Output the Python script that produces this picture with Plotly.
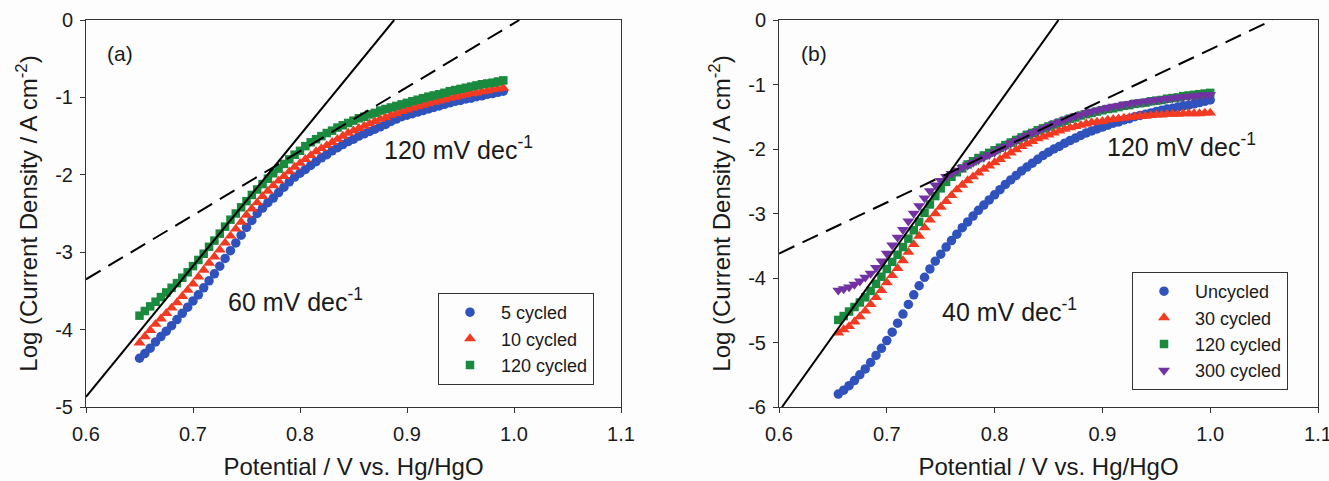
import plotly.graph_objects as go

# ---------------- data: panel (a) ----------------
POT_A = [0.650, 0.655, 0.660, 0.665, 0.670, 0.675, 0.680, 0.685, 0.690, 0.695,
         0.700, 0.705, 0.710, 0.715, 0.720, 0.725, 0.730, 0.735, 0.740, 0.745,
         0.750, 0.755, 0.760, 0.765, 0.770, 0.775, 0.780, 0.785, 0.790, 0.795,
         0.800, 0.805, 0.810, 0.815, 0.820, 0.825, 0.830, 0.835, 0.840, 0.845,
         0.850, 0.855, 0.860, 0.865, 0.870, 0.875, 0.880, 0.885, 0.890, 0.895,
         0.900, 0.905, 0.910, 0.915, 0.920, 0.925, 0.930, 0.935, 0.940, 0.945,
         0.950, 0.955, 0.960, 0.965, 0.970, 0.975, 0.980, 0.985, 0.990]

A_5_CYCLED = [-4.37, -4.31, -4.24, -4.16, -4.09, -4.02, -3.95, -3.87, -3.79, -3.71,
              -3.63, -3.55, -3.46, -3.37, -3.28, -3.18, -3.08, -2.98, -2.88, -2.78,
              -2.68, -2.59, -2.50, -2.43, -2.36, -2.30, -2.23, -2.16, -2.09, -2.03,
              -1.98, -1.93, -1.88, -1.83, -1.78, -1.74, -1.69, -1.65, -1.61, -1.57,
              -1.54, -1.50, -1.47, -1.44, -1.41, -1.38, -1.35, -1.31, -1.28, -1.25,
              -1.23, -1.21, -1.19, -1.17, -1.15, -1.13, -1.11, -1.09, -1.07, -1.05,
              -1.04, -1.02, -1.01, -0.99, -0.98, -0.96, -0.95, -0.935, -0.92]

A_10_CYCLED = [-4.17, -4.09, -4.01, -3.93, -3.86, -3.79, -3.72, -3.65, -3.57, -3.49,
               -3.41, -3.32, -3.23, -3.14, -3.06, -2.97, -2.88, -2.79, -2.70, -2.61,
               -2.52, -2.44, -2.36, -2.28, -2.21, -2.14, -2.08, -2.02, -1.96, -1.90,
               -1.85, -1.80, -1.75, -1.70, -1.66, -1.62, -1.58, -1.54, -1.50, -1.46,
               -1.43, -1.40, -1.37, -1.34, -1.31, -1.28, -1.26, -1.23, -1.21, -1.18,
               -1.16, -1.14, -1.12, -1.10, -1.08, -1.06, -1.045, -1.03, -1.01, -0.995,
               -0.98, -0.965, -0.95, -0.94, -0.925, -0.915, -0.90, -0.89, -0.88]

A_120_CYCLED = [-3.82, -3.76, -3.70, -3.64, -3.58, -3.52, -3.46, -3.40, -3.33, -3.26,
                -3.18, -3.10, -3.02, -2.93, -2.85, -2.76, -2.67, -2.58, -2.50, -2.42,
                -2.34, -2.26, -2.19, -2.12, -2.05, -1.98, -1.92, -1.86, -1.80, -1.74,
                -1.69, -1.63, -1.58, -1.54, -1.50, -1.46, -1.43, -1.39, -1.36, -1.33,
                -1.30, -1.27, -1.25, -1.22, -1.20, -1.17, -1.15, -1.13, -1.11, -1.09,
                -1.07, -1.05, -1.03, -1.01, -0.99, -0.975, -0.96, -0.94, -0.92, -0.905,
                -0.89, -0.875, -0.86, -0.845, -0.83, -0.82, -0.81, -0.795, -0.78]

# Tafel lines (a): end points
A_LINE60_X = [0.600, 0.888]
A_LINE60_Y = [-4.87, 0.0]
A_LINE120_X = [0.600, 1.005]
A_LINE120_Y = [-3.35, 0.0]

# ---------------- data: panel (b) ----------------
POT_B = [0.655, 0.660, 0.665, 0.670, 0.675, 0.680, 0.685, 0.690, 0.695, 0.700,
         0.705, 0.710, 0.715, 0.720, 0.725, 0.730, 0.735, 0.740, 0.745, 0.750,
         0.755, 0.760, 0.765, 0.770, 0.775, 0.780, 0.785, 0.790, 0.795, 0.800,
         0.805, 0.810, 0.815, 0.820, 0.825, 0.830, 0.835, 0.840, 0.845, 0.850,
         0.855, 0.860, 0.865, 0.870, 0.875, 0.880, 0.885, 0.890, 0.895, 0.900,
         0.905, 0.910, 0.915, 0.920, 0.925, 0.930, 0.935, 0.940, 0.945, 0.950,
         0.955, 0.960, 0.965, 0.970, 0.975, 0.980, 0.985, 0.990, 0.995, 1.000]

B_UNCYCLED = [-5.80, -5.74, -5.67, -5.59, -5.50, -5.41, -5.31, -5.20, -5.09, -4.97,
              -4.84, -4.70, -4.56, -4.41, -4.26, -4.12, -3.99, -3.86, -3.74, -3.63,
              -3.52, -3.42, -3.32, -3.22, -3.13, -3.04, -2.95, -2.87, -2.79, -2.71,
              -2.63, -2.55, -2.48, -2.41, -2.34, -2.28, -2.22, -2.16, -2.10, -2.05,
              -2.00, -1.96, -1.91, -1.87, -1.83, -1.79, -1.75, -1.72, -1.69, -1.66,
              -1.63, -1.60, -1.58, -1.55, -1.53, -1.50, -1.48, -1.46, -1.44, -1.42,
              -1.40, -1.38, -1.37, -1.35, -1.33, -1.32, -1.30, -1.28, -1.26, -1.24]

B_30_CYCLED = [-4.85, -4.80, -4.75, -4.68, -4.60, -4.51, -4.41, -4.30, -4.19, -4.07,
               -3.96, -3.85, -3.73, -3.60, -3.48, -3.35, -3.22, -3.10, -3.00, -2.90,
               -2.81, -2.72, -2.63, -2.56, -2.49, -2.43, -2.37, -2.31, -2.26, -2.21,
               -2.16, -2.11, -2.06, -2.01, -1.96, -1.92, -1.88, -1.84, -1.81, -1.78,
               -1.75, -1.72, -1.69, -1.67, -1.65, -1.63, -1.61, -1.59, -1.58, -1.57,
               -1.55, -1.54, -1.53, -1.52, -1.51, -1.50, -1.49, -1.49, -1.48, -1.47,
               -1.47, -1.46, -1.46, -1.46, -1.45, -1.45, -1.45, -1.45, -1.44, -1.44]

B_120_CYCLED = [-4.65, -4.59, -4.52, -4.45, -4.38, -4.30, -4.20, -4.09, -3.98, -3.86,
                -3.75, -3.64, -3.52, -3.39, -3.26, -3.13, -2.99, -2.86, -2.73, -2.61,
                -2.51, -2.43, -2.36, -2.30, -2.24, -2.19, -2.14, -2.10, -2.06, -2.02,
                -1.98, -1.94, -1.90, -1.86, -1.82, -1.78, -1.75, -1.71, -1.68, -1.65,
                -1.62, -1.59, -1.56, -1.53, -1.51, -1.48, -1.46, -1.44, -1.42, -1.40,
                -1.38, -1.37, -1.35, -1.33, -1.32, -1.30, -1.29, -1.28, -1.26, -1.25,
                -1.24, -1.22, -1.21, -1.20, -1.18, -1.17, -1.16, -1.15, -1.14, -1.13]

B_300_CYCLED = [-4.19, -4.17, -4.14, -4.10, -4.05, -3.99, -3.93, -3.84, -3.74, -3.62,
                -3.49, -3.37, -3.25, -3.12, -3.00, -2.88, -2.76, -2.65, -2.56, -2.49,
                -2.43, -2.38, -2.33, -2.29, -2.25, -2.21, -2.17, -2.13, -2.09, -2.05,
                -2.00, -1.96, -1.91, -1.87, -1.83, -1.79, -1.75, -1.72, -1.68, -1.65,
                -1.61, -1.58, -1.55, -1.52, -1.49, -1.47, -1.44, -1.42, -1.40, -1.38,
                -1.36, -1.34, -1.33, -1.31, -1.30, -1.28, -1.27, -1.26, -1.25, -1.24,
                -1.23, -1.22, -1.21, -1.20, -1.19, -1.185, -1.18, -1.17, -1.16, -1.16]

B_LINE40_X = [0.6028, 0.8593]
B_LINE40_Y = [-6.0, 0.0]
B_LINE120_X = [0.600, 1.058]
B_LINE120_Y = [-3.62, 0.0]

X_TICKS = [0.6, 0.7, 0.8, 0.9, 1.0, 1.1]
X_TICK_TEXT = ["0.6", "0.7", "0.8", "0.9", "1.0", "1.1"]
Y_TICKS_A = [0, -1, -2, -3, -4, -5]
Y_TICK_TEXT_A = ["0", "-1", "-2", "-3", "-4", "-5"]
Y_TICKS_B = [0, -1, -2, -3, -4, -5, -6]
Y_TICK_TEXT_B = ["0", "-1", "-2", "-3", "-4", "-5", "-6"]

# ---------------- styles ----------------
FONT = "Liberation Sans, Arial, sans-serif"
BLUE = "#2f52bd"
RED = "#f23a22"
GREEN = "#1a8a3e"
PURPLE = "#7232a3"
BG = "#fdfdfe"
TXT = "#1a1a1a"
W, H = 1329, 481
T, B = 20, 74

fig = go.Figure()


def scatter(x, y, name, color, symbol, size, xa, ya, legend):
    fig.add_trace(go.Scatter(
        x=x, y=y, mode="markers", name=name,
        marker=dict(color=color, symbol=symbol, size=size, line=dict(width=0)),
        xaxis=xa, yaxis=ya, legend=legend))


def line(x, y, dash, xa, ya):
    fig.add_trace(go.Scatter(
        x=x, y=y, mode="lines", showlegend=False, hoverinfo="skip",
        line=dict(color="black", width=2, dash=dash),
        xaxis=xa, yaxis=ya))


scatter(POT_A, A_5_CYCLED, "5 cycled", BLUE, "circle", 9.5, "x", "y", "legend")
scatter(POT_A, A_10_CYCLED, "10 cycled", RED, "triangle-up", 10.5, "x", "y", "legend")
scatter(POT_A, A_120_CYCLED, "120 cycled", GREEN, "square", 8.5, "x", "y", "legend")
line(A_LINE60_X, A_LINE60_Y, "solid", "x", "y")
line(A_LINE120_X, A_LINE120_Y, "17px,9px", "x", "y")

scatter(POT_B, B_UNCYCLED, "Uncycled", BLUE, "circle", 9.5, "x2", "y2", "legend2")
scatter(POT_B, B_30_CYCLED, "30 cycled", RED, "triangle-up", 10.5, "x2", "y2", "legend2")
scatter(POT_B, B_120_CYCLED, "120 cycled", GREEN, "square", 8.5, "x2", "y2", "legend2")
scatter(POT_B, B_300_CYCLED, "300 cycled", PURPLE, "triangle-down", 10.5, "x2", "y2", "legend2")
line(B_LINE40_X, B_LINE40_Y, "solid", "x2", "y2")
line(B_LINE120_X, B_LINE120_Y, "17px,9px", "x2", "y2")

axis_common = dict(
    showgrid=False, zeroline=False, showline=True, linecolor="#333333",
    linewidth=1, mirror=True, ticks="outside", ticklen=5, tickwidth=1,
    tickcolor="#333333", tickfont=dict(family=FONT, size=20, color=TXT),
    automargin=False,
)
xtitle = dict(text="Potential / V vs. Hg/HgO", font=dict(family=FONT, size=24, color=TXT), standoff=14)
ytitle = dict(text="Log (Current Density / A cm<sup>-2</sup>)", font=dict(family=FONT, size=24, color=TXT), standoff=10)

legend_common = dict(
    bgcolor="rgba(0,0,0,0)", bordercolor="#333333", borderwidth=1,
    font=dict(family=FONT, size=18, color=TXT),
    xanchor="left", yanchor="top", itemwidth=52,
)

fig.update_layout(
    width=W, height=H,
    margin=dict(l=0, r=0, t=T, b=B),
    paper_bgcolor=BG, plot_bgcolor=BG,
    xaxis=dict(domain=[86 / W, 621 / W], range=[0.6, 1.1], tickvals=X_TICKS, ticktext=X_TICK_TEXT,
               title=xtitle, anchor="y", ticklabelstandoff=4, ticklabeloverflow="allow", **axis_common),
    yaxis=dict(domain=[0, 1], range=[-5, 0], tickvals=Y_TICKS_A, ticktext=Y_TICK_TEXT_A,
               title=ytitle, anchor="x", ticklabelstandoff=3, **axis_common),
    xaxis2=dict(domain=[779 / W, 1318 / W], range=[0.6, 1.1], tickvals=X_TICKS, ticktext=X_TICK_TEXT,
                title=xtitle, anchor="y2", ticklabelstandoff=4, ticklabeloverflow="allow", **axis_common),
    yaxis2=dict(domain=[0, 1], range=[-6, 0], tickvals=Y_TICKS_B, ticktext=Y_TICK_TEXT_B,
                title=ytitle, anchor="x2", ticklabelstandoff=3, **axis_common),
    legend=dict(x=438 / W, y=(407 - 293) / 387, **legend_common),
    legend2=dict(x=1132 / W, y=(407 - 272) / 387, **legend_common),
    showlegend=True,
)

ann_font = dict(family=FONT, size=25, color=TXT)
fig.add_annotation(x=0.6314, y=-0.43, xref="x", yref="y", text="(a)", showarrow=False,
                   font=dict(family=FONT, size=21, color=TXT))
fig.add_annotation(x=0.948, y=-1.66, xref="x", yref="y", text="120 mV dec<sup>-1</sup>",
                   showarrow=False, font=ann_font)
fig.add_annotation(x=0.796, y=-3.62, xref="x", yref="y", text="60 mV dec<sup>-1</sup>",
                   showarrow=False, font=ann_font)
fig.add_annotation(x=0.6328, y=-0.52, xref="x2", yref="y2", text="(b)", showarrow=False,
                   font=dict(family=FONT, size=21, color=TXT))
fig.add_annotation(x=0.973, y=-1.94, xref="x2", yref="y2", text="120 mV dec<sup>-1</sup>",
                   showarrow=False, font=ann_font)
fig.add_annotation(x=0.814, y=-4.50, xref="x2", yref="y2", text="40 mV dec<sup>-1</sup>",
                   showarrow=False, font=ann_font)

fig.write_html("out.html", config={"displayModeBar": False},
               post_script="document.body.style.margin='0';")
